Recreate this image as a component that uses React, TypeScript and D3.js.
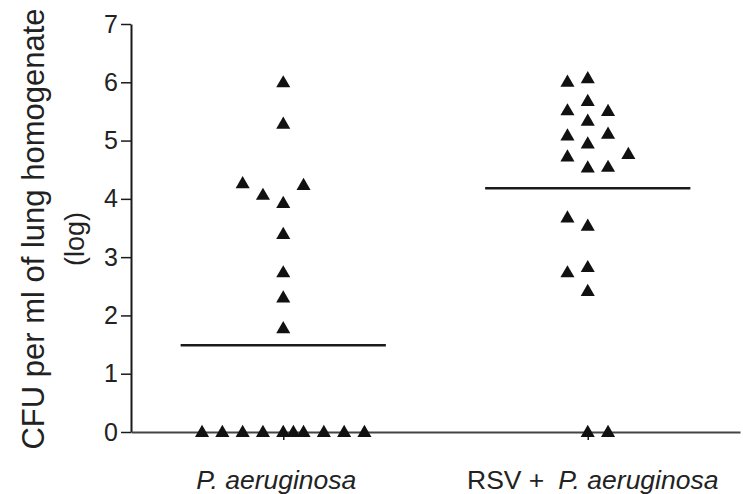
import { useEffect, useRef } from 'react';
import * as d3 from 'd3';

// groups on the x axis
const groups = ['pa', 'rsvpa'];

// each point: value (log CFU) and horizontal jitter in marker columns
const paValues = [6.0, 5.29, 4.27, 4.07, 3.93, 4.24, 3.4, 2.74, 2.31, 1.78, 0, 0, 0, 0, 0, 0, 0, 0, 0, 0];
const paColumns = [0, 0, -2, -1, 0, 1, 0, 0, 0, 0, -4, -3, -2, -1, 0, 0.5, 1, 2, 3, 4];

const rsvValues = [6.01, 6.07, 5.68, 5.52, 5.51, 5.34, 5.09, 5.12, 4.95, 4.73, 4.77, 4.54, 4.55, 3.68, 3.54, 2.74, 2.83, 2.42, 0, 0];
const rsvColumns = [-1, 0, 0, -1, 1, 0, -1, 1, 0, -1, 2, 0, 1, -1, 0, -1, 0, 0, 0, 1];

// horizontal lines (group means as drawn)
const means = [1.49, 4.18];

const yTicks = [0, 1, 2, 3, 4, 5, 6, 7];

export default function App() {
  const svgRef = useRef<SVGSVGElement>(null);

  useEffect(() => {
    const W = 743;
    const H = 494;
    const left = 131;
    const right = 740;
    const top = 24;
    const bottom = 432;
    const col = 20.3;
    const ink = '#1a1a1a';
    const font = '"Liberation Sans", Arial, Helvetica, sans-serif';

    const svg = d3.select(svgRef.current).attr('width', W).attr('height', H);
    svg.selectAll('*').remove();

    const x = d3.scalePoint<string>().domain(groups).range([left, right]).padding(0.5);
    const y = d3.scaleLinear().domain([0, 7]).range([bottom, top]);

    // y axis
    const yAxis = svg.append('g').attr('transform', `translate(${left},0)`)
      .call(d3.axisLeft(y).tickValues(yTicks).tickFormat(d3.format('d')).tickSize(10).tickPadding(3).tickSizeOuter(0));
    yAxis.select('.domain').attr('stroke', ink).attr('stroke-width', 2);
    yAxis.selectAll('line').attr('stroke', ink).attr('stroke-width', 1.5);
    yAxis.selectAll('text').attr('fill', '#222').attr('font-size', 25).attr('font-family', font);

    // x axis
    const xAxis = svg.append('g').attr('transform', `translate(0,${bottom})`)
      .call(d3.axisBottom(x).tickSize(8).tickFormat(() => '').tickSizeOuter(0));
    xAxis.select('.domain').attr('stroke', '#444').attr('stroke-width', 2);
    xAxis.selectAll('line').attr('stroke', ink).attr('stroke-width', 1.5);

    // x labels
    const lab1 = svg.append('text').attr('x', x('pa')! - 7).attr('y', 489)
      .attr('text-anchor', 'middle').attr('font-size', 26.5).attr('font-family', font).attr('fill', '#222');
    lab1.append('tspan').attr('font-style', 'italic').text('P. aeruginosa');

    const lab2 = svg.append('text').attr('x', x('rsvpa')! + 5).attr('y', 489)
      .attr('text-anchor', 'middle').attr('font-size', 26.5).attr('font-family', font).attr('fill', '#222');
    lab2.append('tspan').text('RSV +');
    lab2.append('tspan').attr('dx', 14).attr('font-style', 'italic').text('P. aeruginosa');

    // y title
    const title = svg.append('text').attr('transform', `translate(0,${(top + bottom) / 2 + 1}) rotate(-90)`)
      .attr('text-anchor', 'middle').attr('font-size', 31).attr('font-family', font).attr('fill', '#222');
    title.append('tspan').attr('x', 0).attr('y', 44).text('CFU per ml of lung homogenate');
    title.append('tspan').attr('x', -10).attr('y', 84).attr('font-size', 27).text('(log)');

    // mean lines
    const half = x.step() * 0.337;
    svg.append('g').selectAll('line').data(groups).join('line')
      .attr('x1', (d) => x(d)! - half).attr('x2', (d) => x(d)! + half)
      .attr('y1', (d, i) => y(means[i])).attr('y2', (d, i) => y(means[i]))
      .attr('stroke', ink).attr('stroke-width', 2.5);

    // points
    const tri = d3.symbol().type(d3.symbolTriangle).size(86);
    const pts = [
      ...paValues.map((v, i) => ({ g: 'pa', v, c: paColumns[i] })),
      ...rsvValues.map((v, i) => ({ g: 'rsvpa', v, c: rsvColumns[i] })),
    ];
    svg.append('g').selectAll('path').data(pts).join('path')
      .attr('d', tri)
      .attr('transform', (d) => `translate(${x(d.g)! + d.c * col},${y(d.v) + 1})`)
      .attr('fill', '#111');
  }, []);

  return (
    <div style={{ position: 'absolute', left: 0, top: 0 }}>
      <svg ref={svgRef} style={{ display: 'block', background: '#fff' }} />
    </div>
  );
}
